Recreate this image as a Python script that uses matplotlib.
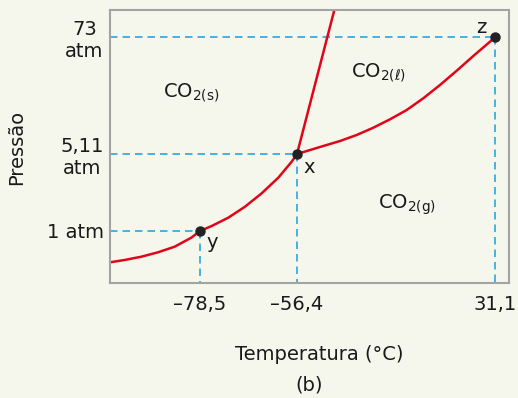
import numpy as np
import matplotlib
matplotlib.use("Agg")
import matplotlib.pyplot as plt

# Phase diagram of CO2 (schematic, not to scale)
temp_ticks = [-78.5, -56.4, 31.1]
temp_tick_labels = ["\u201378,5", "\u201356,4", "31,1"]
press_ticks = [1, 5.11, 73]
press_tick_labels = ["1 atm", "5,11\natm", "73\natm"]

point_names = ["y", "x", "z"]
point_temp = [-78.5, -56.4, 31.1]
point_press = [1, 5.11, 73]

# sublimation curve (solid / gas)
subl_temp = [-100, -96.49, -92.52, -88.53, -84.54, -80.58, -78.5,
             -75.83, -72.05, -68.25, -64.44, -60.66, -57.61, -56.4]
subl_press = [0.513, 0.539, 0.578, 0.635, 0.716, 0.867, 1,
              1.112, 1.326, 1.673, 2.223, 3.093, 4.341, 5.11]
# vaporization curve (liquid / gas), ends at the critical point
vap_temp = [-56.4, -44.78, -37.40, -30.02, -22.68, -15.30, -7.92,
            -0.59, 6.79, 14.18, 21.51, 28.89, 31.1]
vap_press = [5.11, 6.130, 6.866, 7.871, 9.290, 11.24, 13.89,
             18.13, 24.52, 33.93, 47.40, 65.62, 73]
# melting curve (solid / liquid)
melt_temp = [-56.4, -39.9]
melt_press = [5.11, 135]

# piecewise axis scales so the diagram keeps its schematic proportions
T_knots = np.array([-100, -78.5, -56.4, 31.1, 37.3])
T_pos = np.array([0, 90, 187, 385, 399], dtype=float)
P_knots = np.log10([0.33, 1, 5.11, 73, 135])
P_pos = np.array([0, 52, 129, 246, 273], dtype=float)


def t_fwd(t):
    return np.interp(t, T_knots, T_pos)


def t_inv(u):
    return np.interp(u, T_pos, T_knots)


def p_fwd(p):
    return np.interp(np.log10(np.clip(p, 1e-9, None)), P_knots, P_pos)


def p_inv(v):
    return 10 ** np.interp(v, P_pos, P_knots)


BG = "#f5f6ec"
RED = "#e0061a"
BLUE = "#2aa6df"
INK = "#1a1a1a"
FS = 14

plt.rcParams["font.family"] = ["DejaVu Sans"]

fig = plt.figure(figsize=(5.18, 3.98), dpi=100, facecolor=BG)
ax = fig.add_axes([110 / 518, 115 / 398, 399 / 518, 273 / 398], facecolor=BG)
ax.set_xscale("function", functions=(t_fwd, t_inv))
ax.set_yscale("function", functions=(p_fwd, p_inv))
ax.set_xlim(T_knots[0], T_knots[-1])
ax.set_ylim(10 ** P_knots[0], 10 ** P_knots[-1])

# guide lines from each point to the axes
dash = dict(color=BLUE, lw=1.2, dashes=(4.5, 3), zorder=1)
for t, p in zip(point_temp, point_press):
    ax.plot([T_knots[0], t], [p, p], **dash)
    ax.plot([t, t], [p, 10 ** P_knots[0]], **dash)

# phase boundaries
curve = dict(color=RED, lw=1.8, solid_capstyle="butt", solid_joinstyle="round", zorder=2)
ax.plot(subl_temp, subl_press, **curve)
ax.plot(vap_temp, vap_press, **curve)
ax.plot(melt_temp, melt_press, **curve)

ax.plot(point_temp, point_press, "o", color="#222222", ms=6.5, zorder=3)

offsets = {"x": (9, -9.5), "y": (9, -8), "z": (-10, 7)}
for name, t, p in zip(point_names, point_temp, point_press):
    ax.annotate(name, (t, p), xytext=offsets[name], textcoords="offset points",
                ha="center", va="center", fontsize=FS, color=INK)

# phase regions
ax.text(0.133, 0.695, r"CO$_{\mathregular{2(s)}}$", transform=ax.transAxes,
        fontsize=FS, color=INK, va="center")
ax.text(0.604, 0.768, r"CO$_{\mathregular{2(}\ell\mathregular{)}}$", transform=ax.transAxes,
        fontsize=FS, color=INK, va="center")
ax.text(0.672, 0.288, r"CO$_{\mathregular{2(g)}}$", transform=ax.transAxes,
        fontsize=FS, color=INK, va="center")

ax.set_xticks(temp_ticks)
ax.set_xticklabels(temp_tick_labels)
ax.set_yticks(press_ticks)
ax.set_yticklabels(press_tick_labels, multialignment="center")
ax.minorticks_off()
ax.tick_params(axis="both", length=0, labelsize=FS, labelcolor=INK)
ax.tick_params(axis="x", pad=9)
ax.tick_params(axis="y", pad=4.5)

for s in ax.spines.values():
    s.set_color("#a3a3a3")
    s.set_linewidth(1.5)

fig.text(319 / 518, 1 - 354 / 398, "Temperatura (°C)", ha="center", va="center",
         fontsize=FS, color=INK)
fig.text(309 / 518, 1 - 385 / 398, "(b)", ha="center", va="center",
         fontsize=FS, color=INK)
fig.text(17 / 518, 1 - 147 / 398, "Pressão", ha="center", va="center",
         rotation=90, fontsize=FS, color=INK)

fig.savefig("out.png", dpi=100, facecolor=BG)
